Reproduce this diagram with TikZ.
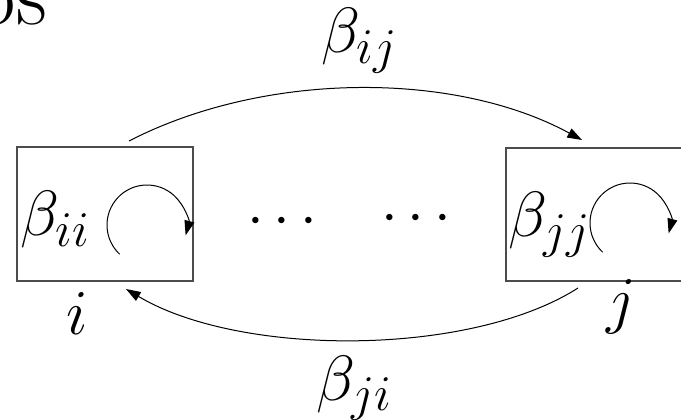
\RequirePackage{fix-cm}
\documentclass[tikz,border=0pt]{standalone}
\usetikzlibrary{arrows.meta}
\DeclareMathSizes{48}{48}{37.5}{28}
\tikzset{
  lbl/.style={inner sep=0pt, font=\fontsize{48}{56}\selectfont},
  dotlbl/.style={inner sep=0pt, font=\fontsize{45}{54}\selectfont},
  statebox/.style={draw=black!70, line width=0.9pt, inner sep=0pt},
  conn/.style={draw=black, line width=0.75pt, -{Triangle[length=11pt,width=7.5pt]}},
}
\begin{document}
\begin{tikzpicture}[x=0.75pt,y=-0.75pt]
\useasboundingbox (0,0) rectangle (681,420);
% title fragment (cut off)
\node[inner sep=0pt, anchor=base east, font=\fontsize{64}{70}\selectfont] (title) at (47,25) {os};
% boxes
\node[statebox, minimum width=132pt, minimum height=100.5pt] (lbox) at (105,214) {};
\node[statebox, minimum width=138pt, minimum height=99.75pt] (rbox) at (598,214.5) {};
% labels inside boxes
\node[lbl, anchor=base west] (bii) at (20,236) {$\beta_{ii}$};
\node[lbl, anchor=base west] (bjj) at (508,237) {$\beta_{jj}$};
% self loops
\coordinate (lc) at (147,225);
\coordinate (rc) at (630,223);
\draw[conn] ([shift={(133:40)}]lc) arc[start angle=133, end angle=375, radius=40];
\draw[conn] ([shift={(133:40)}]rc) arc[start angle=133, end angle=375, radius=40];
% dots
\node[dotlbl, anchor=base] (d1) at (282,236) {$\cdots$};
\node[dotlbl, anchor=base] (d2) at (416,233) {$\cdots$};
% node names
\node[lbl, anchor=base] (ni) at (77,334) {$i$};
\node[lbl, anchor=base] (nj) at (621,321) {$j$};
% transition arrows
\coordinate (a1) at (129,141);
\coordinate (a2) at (582,140);
\coordinate (b1) at (578,288);
\coordinate (b2) at (126,289);
\draw[conn] (a1) .. controls (265,71) and (455,71) .. (a2);
\draw[conn] (b1) .. controls (470,357) and (240,357) .. (b2);
% transition labels
\node[lbl, anchor=base west] (bij) at (321,53) {$\beta_{ij}$};
\node[lbl, anchor=base west] (bji) at (316,400) {$\beta_{ji}$};
\end{tikzpicture}
\end{document}
